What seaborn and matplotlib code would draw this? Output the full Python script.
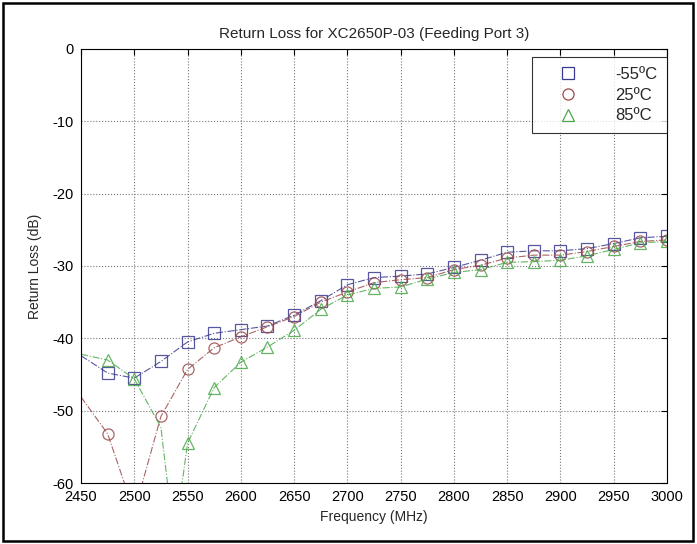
import numpy as np
import pandas as pd
import matplotlib
matplotlib.use("Agg")
import matplotlib.pyplot as plt
import seaborn as sns
from matplotlib.lines import Line2D
from matplotlib.patches import Rectangle

freq = [2450, 2475, 2500, 2525, 2550, 2575, 2600, 2625, 2650, 2675, 2700, 2725,
        2750, 2775, 2800, 2825, 2850, 2875, 2900, 2925, 2950, 2975, 3000]
rl_m55 = [-42.4, -44.8, -45.5, -43.2, -40.5, -39.3, -38.8, -38.3, -36.8, -34.8, -32.6, -31.6,
          -31.4, -31.1, -30.2, -29.2, -28.1, -27.9, -27.9, -27.6, -26.9, -26.1, -25.9]
rl_25 = [-48.1, -53.2, -64.0, -50.8, -44.3, -41.3, -39.8, -38.4, -37.0, -35.0, -33.6, -32.3,
         -31.9, -31.6, -30.5, -29.9, -28.9, -28.5, -28.5, -28.0, -27.3, -26.6, -26.4]
freq_85 = [2450, 2475, 2500, 2525, 2537.5, 2550, 2575, 2600, 2625, 2650, 2675, 2700, 2725,
           2750, 2775, 2800, 2825, 2850, 2875, 2900, 2925, 2950, 2975, 3000]
rl_85 = [-42.2, -43.0, -45.6, -52.3, -68.0, -54.5, -46.8, -43.3, -41.2, -38.9, -36.0, -34.0, -33.1,
         -32.9, -31.8, -30.9, -30.5, -29.5, -29.4, -29.2, -28.6, -27.7, -26.8, -26.6]

labels = ["-55ºC", "25ºC", "85ºC"]
colors = ["#3a3a90", "#9a4a4a", "#4aa84a"]
markers = ["s", "o", "^"]

sns.set_style("white")
plt.rcParams["font.family"] = ["Liberation Sans", "DejaVu Sans"]
plt.rcParams["axes.unicode_minus"] = False

fig = plt.figure(figsize=(6.97, 5.44), dpi=100)
ax = fig.add_axes([0.1162, 0.1121, 0.8408, 0.7979])

series = [(freq, rl_m55), (freq, rl_25), (freq_85, rl_85)]
marks = [list(range(1, len(freq))), list(range(1, len(freq))),
         [i for i in range(1, len(freq_85)) if i != 3]]
for (f, v), c, m, me in zip(series, colors, markers, marks):
    sns.lineplot(x=f, y=v, ax=ax, color=c, marker=m, markersize=8, mfc="none", mec=c,
                 mew=0.9, linestyle="-.", linewidth=0.8, markevery=me,
                 sort=False, estimator=None, alpha=0.85)

ax.set_xlim(2450, 3000)
ax.set_ylim(-60, 0)
ax.set_xticks(np.arange(2450, 3001, 50))
ax.set_yticks(np.arange(-60, 1, 10))
ax.grid(True, linestyle=":", color="#777777", linewidth=0.8)
ax.tick_params(direction="in", length=4, top=True, right=True, labelsize=10.5, pad=5,
               colors="black")
for s in ax.spines.values():
    s.set_color("black")
    s.set_linewidth(0.8)

ax.set_title("Return Loss for XC2650P-03 (Feeding Port 3)", fontsize=11, pad=8)
ax.set_xlabel("Frequency (MHz)", fontsize=10)
ax.set_ylabel("Return Loss (dB)", fontsize=10, labelpad=8)

handles = [Line2D([], [], linestyle="none", marker=m, markersize=8, mfc="none", mec=c, mew=0.9)
           for m, c in zip(markers, colors)]
leg = ax.legend(handles, labels, loc="upper right", bbox_to_anchor=(1.0, 0.982), fontsize=12,
                frameon=True, fancybox=False, borderaxespad=0.0, handlelength=3.2,
                handletextpad=1.2, borderpad=0.6, labelspacing=0.35)
leg.get_frame().set_edgecolor("black")
leg.get_frame().set_linewidth(0.8)

fig.patches.append(Rectangle((0.004, 0.005), 0.99, 0.99, transform=fig.transFigure,
                             fill=False, edgecolor="black", linewidth=1.8))

plt.savefig("out.png", dpi=100)
